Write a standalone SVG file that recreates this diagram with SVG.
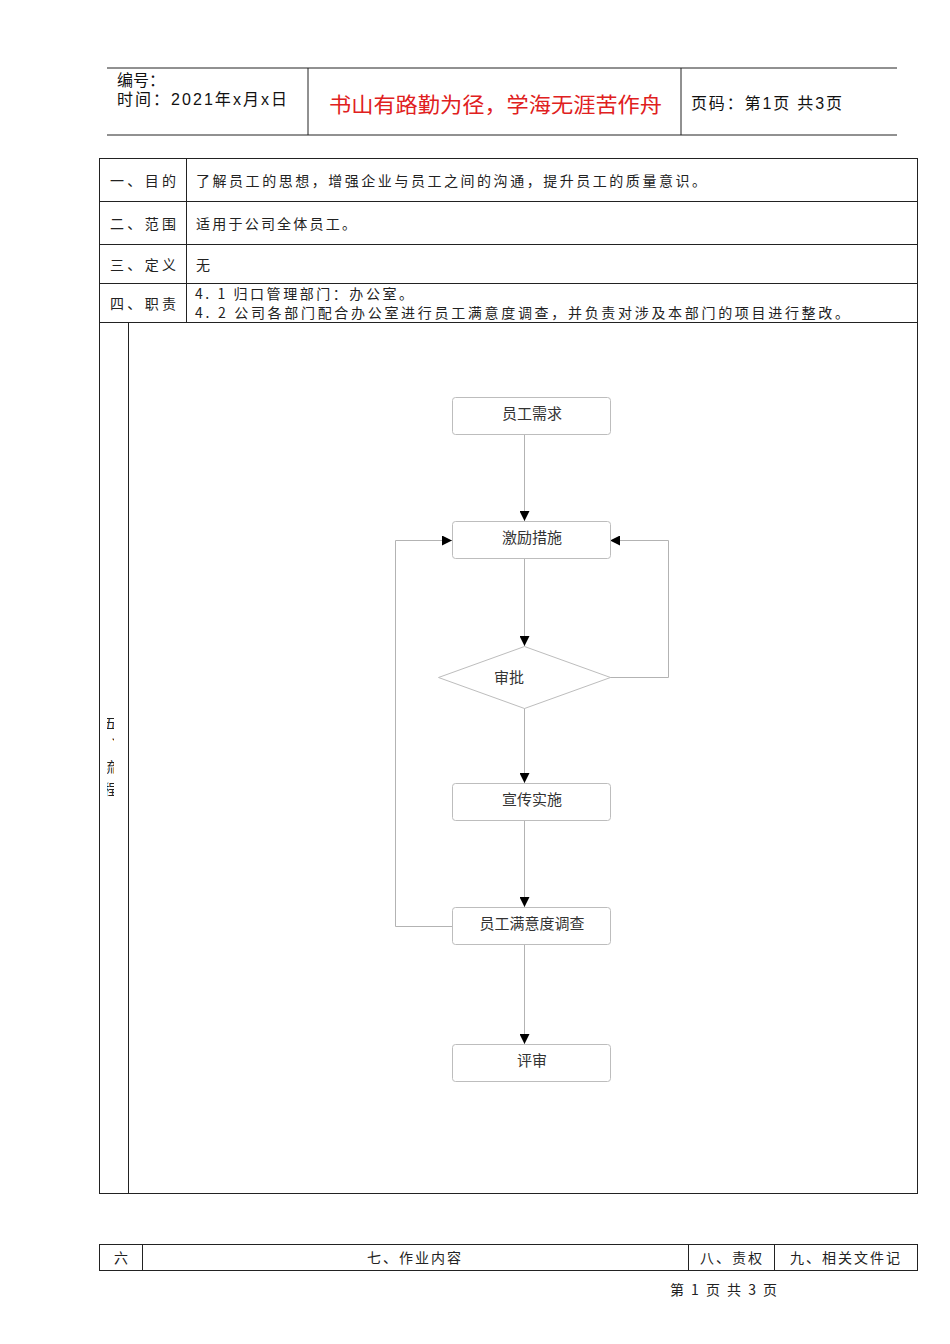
<svg xmlns="http://www.w3.org/2000/svg" width="950" height="1344" viewBox="0 0 950 1344">
<style>
.t{font-family:"Noto Sans CJK SC","Liberation Sans",sans-serif;fill:#222;font-size:14px}
.h{font-family:"Liberation Sans","Noto Sans CJK SC",sans-serif;fill:#111;font-size:16px}
.f{font-family:"Noto Sans CJK SC","Liberation Sans",sans-serif;fill:#333;font-size:15px;text-anchor:middle}
.ln{stroke:#222;stroke-width:1;fill:none}
.node{fill:#fff;stroke:#bdbdbd;stroke-width:1}
.c{stroke:#b3b3b3;stroke-width:1;fill:none}
</style>
<defs>
<marker id="arr" viewBox="0 0 10 10" refX="10" refY="5" markerWidth="10" markerHeight="10" markerUnits="userSpaceOnUse" orient="auto">
<path d="M0,0 L10,5 L0,10 z" fill="#000"/>
</marker>
<clipPath id="vclip"><rect x="107" y="710" width="7" height="95"/></clipPath>
</defs>
<rect width="950" height="1344" fill="#fff"/>
<g id="header">
<line class="ln" x1="107" y1="68" x2="897" y2="68" stroke="#555"/>
<line class="ln" x1="107" y1="135" x2="897" y2="135" stroke="#555"/>
<line class="ln" x1="308" y1="68" x2="308" y2="135" stroke="#555"/>
<line class="ln" x1="681" y1="68" x2="681" y2="135" stroke="#555"/>
<text class="h" x="117" y="86">编号：</text>
<text class="h" x="117" y="105" textLength="170" lengthAdjust="spacing">时间：2021年x月x日</text>
<text x="329" y="112" textLength="333" lengthAdjust="spacingAndGlyphs" font-family="Noto Sans CJK SC,sans-serif" font-size="21" fill="#e02020">书山有路勤为径，学海无涯苦作舟</text>
<text class="h" x="691" y="109" textLength="151" lengthAdjust="spacing">页码：第1页 共3页</text>
</g>
<g id="table">
<rect class="ln" x="99.5" y="158.5" width="818" height="1035"/>
<line class="ln" x1="99" y1="201.5" x2="918" y2="201.5"/>
<line class="ln" x1="99" y1="244.5" x2="918" y2="244.5"/>
<line class="ln" x1="99" y1="283.5" x2="918" y2="283.5"/>
<line class="ln" x1="99" y1="322.5" x2="918" y2="322.5"/>
<line class="ln" x1="186.5" y1="158" x2="186.5" y2="322"/>
<line class="ln" x1="128.5" y1="322" x2="128.5" y2="1193"/>
<text class="t" x="110" y="186" textLength="66" lengthAdjust="spacing">一、目的</text>
<text class="t" x="196" y="186" textLength="510" lengthAdjust="spacing">了解员工的思想，增强企业与员工之间的沟通，提升员工的质量意识。</text>
<text class="t" x="110" y="229" textLength="66" lengthAdjust="spacing">二、范围</text>
<text class="t" x="196" y="229" textLength="160" lengthAdjust="spacing">适用于公司全体员工。</text>
<text class="t" x="110" y="270" textLength="66" lengthAdjust="spacing">三、定义</text>
<text class="t" x="196" y="270">无</text>
<text class="t" x="110" y="309" textLength="66" lengthAdjust="spacing">四、职责</text>
<text class="t" x="195" y="299" textLength="218" lengthAdjust="spacing">4. 1 归口管理部门：办公室。</text>
<text class="t" x="195" y="318" textLength="654" lengthAdjust="spacing">4. 2 公司各部门配合办公室进行员工满意度调查，并负责对涉及本部门的项目进行整改。</text>
<g clip-path="url(#vclip)"><text class="t" x="110" y="716" font-size="13" writing-mode="tb" letter-spacing="8" fill="#777">五、流程</text></g>
</g>
<g id="connectors">
<line class="c" x1="524.5" y1="434" x2="524.5" y2="521" marker-end="url(#arr)"/>
<line class="c" x1="524.5" y1="558" x2="524.5" y2="646" marker-end="url(#arr)"/>
<line class="c" x1="524.5" y1="708" x2="524.5" y2="783" marker-end="url(#arr)"/>
<line class="c" x1="524.5" y1="820" x2="524.5" y2="907" marker-end="url(#arr)"/>
<line class="c" x1="524.5" y1="944" x2="524.5" y2="1044" marker-end="url(#arr)"/>
<polyline class="c" points="452,926.5 395.5,926.5 395.5,540.5 452,540.5" marker-end="url(#arr)"/>
<polyline class="c" points="610,677.5 668.5,677.5 668.5,540.5 610,540.5" marker-end="url(#arr)"/>
</g>
<g id="n1"><rect class="node" x="452.5" y="397.5" width="158" height="37" rx="3"/><text class="f" x="532" y="419">员工需求</text></g>
<g id="n2"><rect class="node" x="452.5" y="521.5" width="158" height="37" rx="3"/><text class="f" x="532" y="543">激励措施</text></g>
<g id="n3"><polygon class="node" points="524.5,646.5 610.5,677.5 524.5,708.5 438.5,677.5"/><text class="f" x="509" y="683">审批</text></g>
<g id="n4"><rect class="node" x="452.5" y="783.5" width="158" height="37" rx="3"/><text class="f" x="532" y="805">宣传实施</text></g>
<g id="n5"><rect class="node" x="452.5" y="907.5" width="158" height="37" rx="3"/><text class="f" x="532" y="929">员工满意度调查</text></g>
<g id="n6"><rect class="node" x="452.5" y="1044.5" width="158" height="37" rx="3"/><text class="f" x="532" y="1066">评审</text></g>
<g id="footer">
<rect class="ln" x="99.5" y="1244.5" width="818" height="26"/>
<line class="ln" x1="142.5" y1="1244" x2="142.5" y2="1270"/>
<line class="ln" x1="688.5" y1="1244" x2="688.5" y2="1270"/>
<line class="ln" x1="774.5" y1="1244" x2="774.5" y2="1270"/>
<text class="t" x="121" y="1263" text-anchor="middle">六</text>
<text class="t" x="415" y="1263" text-anchor="middle" letter-spacing="2">七、作业内容</text>
<text class="t" x="732" y="1263" text-anchor="middle" letter-spacing="2">八、责权</text>
<text class="t" x="846" y="1263" text-anchor="middle" letter-spacing="2">九、相关文件记</text>
<text class="t" x="670" y="1295" font-size="13" textLength="107" lengthAdjust="spacing" xml:space="preserve">第 1 页 共 3 页</text>
</g>
</svg>
